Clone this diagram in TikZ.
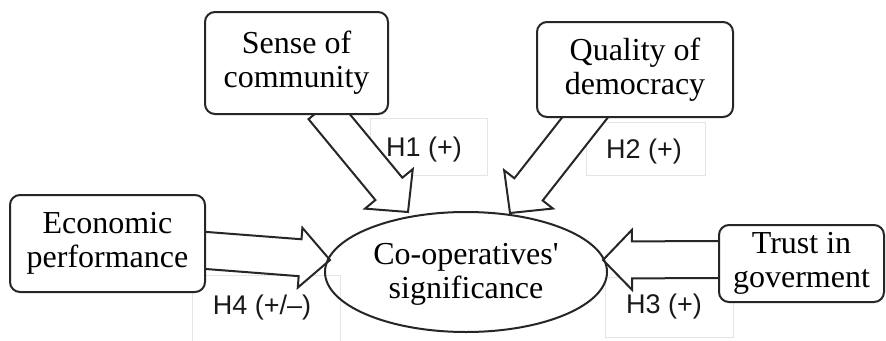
\documentclass[tikz,border=0pt]{standalone}
\usepackage{fontspec}
\setmainfont{Liberation Serif}
\newfontfamily\rawserif{Liberation Serif}
\newfontfamily\hfont{Liberation Sans}
\usetikzlibrary{calc}
\newcommand\myblockarrow[5]{%
  \coordinate (hb) at ($(#2)!#5!(#1)$);
  \draw[arr] ($(#1)!#3!90:(#2)$) -- ($(hb)!#3!-90:(#1)$) -- ($(hb)!#4!-90:(#1)$) -- (#2)
    -- ($(hb)!#4!90:(#1)$) -- ($(hb)!#3!90:(#1)$) -- ($(#1)!#3!-90:(#2)$) -- cycle;}
\begin{document}
\begin{tikzpicture}[x=1pt,y=-1pt,
  box/.style={draw=black!85, line width=2pt, rounded corners=10pt, fill=white, align=center,
    font=\fontsize{32}{34}\selectfont, inner sep=0pt},
  hlab/.style={font=\hfont\fontsize{27}{29}\selectfont, text=black!90},
  hframe/.style={draw=black!10, line width=0.8pt},
  arr/.style={draw=black!85, line width=2pt, fill=white, line join=miter}]
\useasboundingbox (0,0) rectangle (886,340);
\fill[white] (0,0) rectangle (886,340);
% coordinates for block arrows
\coordinate (s1) at (322,108); \coordinate (s2) at (408,212);
\coordinate (q1) at (594,106); \coordinate (q2) at (510,213);
\coordinate (e1) at (200,250); \coordinate (e2) at (330,260);
\coordinate (t1) at (725,259.5); \coordinate (t2) at (603,260);
% label frames
\draw[hframe] (370,118) rectangle (487,175);
\draw[hframe] (586,122) rectangle (705,175);
\draw[hframe] (192,275) rectangle (340,345);
\draw[hframe] (605,277) rectangle (733,337);
% arrows
\myblockarrow{s1}{s2}{17.5pt}{31pt}{30pt}
\myblockarrow{q1}{q2}{18pt}{31pt}{30pt}
\myblockarrow{e1}{e2}{18.5pt}{30pt}{30pt}
\myblockarrow{t1}{t2}{18.5pt}{30pt}{29pt}
% labels
\node[hlab] (h1) at (424,150) {H1 (+)};
\node[hlab] (h2) at (644,152) {H2 (+)};
\node[hlab] (h4) at (262,308) {H4 (+/–)};
\node[hlab] (h3) at (664,307) {H3 (+)};
% boxes
\node[box, minimum width=183pt, minimum height=102pt] (sense) at (296.5,63) {Sense of\\community};
\node[box, minimum width=196pt, minimum height=95pt] (qual) at (635,69.5) {Quality of\\democracy};
\node[box, minimum width=195pt, minimum height=97pt] (econ) at (107.5,243.5) {Economic\\performance};
\node[box, minimum width=165pt, minimum height=77pt] (trust) at (801.5,263.5) {Trust in\\goverment};
% ellipse
\draw[draw=black!85, line width=2pt] (466,272) ellipse [x radius=141, y radius=60];
\node[align=center, font=\fontsize{32}{34}\selectfont, inner sep=0pt] (cs) at (466,274) {Co-operatives{\rawserif'}\\significance};
\end{tikzpicture}
\end{document}
